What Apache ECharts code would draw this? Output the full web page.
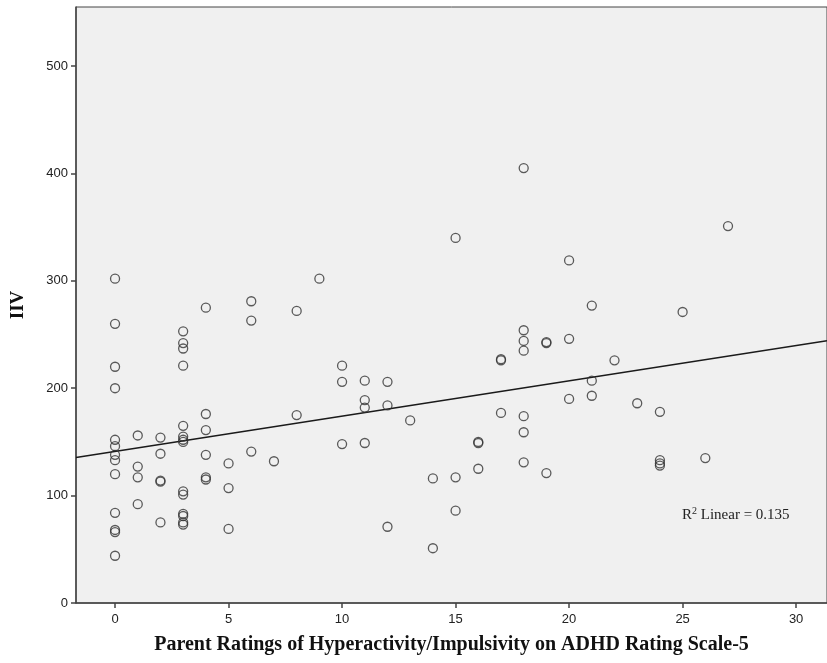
<!DOCTYPE html>
<html>
<head>
<meta charset="utf-8">
<script src="https://cdn.jsdelivr.net/npm/echarts@6/dist/echarts.min.js"></script>
<style>
  html, body { margin: 0; padding: 0; background: #fff; }
  #chart { width: 827px; height: 663px; }
</style>
</head>
<body>
<div id="chart"></div>
<script>
// parent rating (x) and IIV (y)
const ratingX = [
  0, 0, 0, 0, 0, 0, 0, 0, 0, 0, 0, 0, 0,
  1, 1, 1, 1,
  2, 2, 2, 2, 2,
  3, 3, 3, 3, 3, 3, 3, 3, 3, 3, 3, 3, 3, 3,
  4, 4, 4, 4, 4, 4,
  5, 5, 5,
  6, 6, 6,
  7,
  8, 8,
  9,
  10, 10, 10,
  11, 11, 11, 11,
  12, 12, 12,
  13,
  14, 14,
  15, 15, 15,
  16, 16, 16,
  17, 17, 17,
  18, 18, 18, 18, 18, 18, 18,
  19, 19, 19,
  20, 20, 20,
  21, 21, 21,
  22,
  23,
  24, 24, 24, 24,
  25,
  26,
  27
];
const iivY = [
  302, 260, 220, 200, 152, 146, 138, 133, 120, 84, 68, 66, 44,
  156, 127, 117, 92,
  154, 139, 114, 113, 75,
  253, 242, 237, 221, 165, 155, 152, 150, 104, 101, 83, 81, 75, 73,
  275, 176, 161, 138, 117, 115,
  130, 107, 69,
  281, 263, 141,
  132,
  272, 175,
  302,
  221, 206, 148,
  207, 189, 182, 149,
  206, 184, 71,
  170,
  116, 51,
  340, 117, 86,
  150, 149, 125,
  227, 226, 177,
  405, 254, 244, 235, 174, 159, 131,
  243, 242, 121,
  319, 246, 190,
  277, 207, 193,
  226,
  186,
  178, 133, 130, 128,
  271,
  135,
  351
];

// fit line ends at the plot edges
const fitX = [-1.72, 31.36];
const fitY = [135.4, 244.2];

const xTicks = [0, 5, 10, 15, 20, 25, 30];
const yTicks = [0, 100, 200, 300, 400, 500];

const r2Text = '0.135';

const chart = echarts.init(document.getElementById('chart'));

const points = ratingX.map((x, i) => [x, iivY[i]]);
const fitLine = fitX.map((x, i) => [x, fitY[i]]);

const tickFont = 'Liberation Sans, Arial, sans-serif';

const option = {
  animation: false,
  grid: {
    left: 76,
    top: 7,
    width: 752,
    height: 596,
    show: true,
    backgroundColor: '#f0f0f0',
    borderColor: '#444',
    borderWidth: 1
  },
  xAxis: {
    type: 'value',
    min: -1.72,
    max: 31.36,
    name: 'Parent Ratings of Hyperactivity/Impulsivity on ADHD Rating Scale-5',
    nameLocation: 'middle',
    nameGap: 32,
    nameTextStyle: {
      fontFamily: 'Liberation Serif',
      fontWeight: 'bold',
      fontSize: 20,
      color: '#111'
    },
    splitLine: { show: false },
    axisLine: { onZero: false, lineStyle: { color: '#444', width: 1.5 } },
    axisTick: { length: 5, customValues: xTicks, lineStyle: { color: '#444', width: 1.5 } },
    axisLabel: {
      customValues: xTicks,
      margin: 10,
      fontFamily: tickFont,
      fontSize: 13,
      color: '#222'
    }
  },
  yAxis: {
    type: 'value',
    min: 0,
    max: 555,
    name: 'IIV',
    nameLocation: 'middle',
    nameGap: 48,
    nameTextStyle: {
      fontFamily: 'Liberation Serif',
      fontWeight: 'bold',
      fontSize: 19,
      color: '#111'
    },
    splitLine: { show: false },
    axisLine: { onZero: false, lineStyle: { color: '#444', width: 1.5 } },
    axisTick: { length: 5, customValues: yTicks, lineStyle: { color: '#444', width: 1.5 } },
    axisLabel: {
      customValues: yTicks,
      margin: 8,
      fontFamily: tickFont,
      fontSize: 13,
      color: '#222'
    }
  },
  series: [
    {
      type: 'scatter',
      data: points,
      symbol: 'circle',
      symbolSize: 9,
      itemStyle: {
        color: 'rgba(0,0,0,0)',
        borderColor: '#333',
        borderWidth: 1.3
      },
      z: 3
    },
    {
      type: 'line',
      data: fitLine,
      showSymbol: false,
      lineStyle: { color: '#1a1a1a', width: 1.5 },
      z: 2
    }
  ],
  graphic: [
    {
      type: 'text',
      left: 682,
      top: 506,
      style: {
        text: '{r|R}{sup|2}{r| Linear = ' + r2Text + '}',
        rich: {
          r: { fontFamily: 'Liberation Serif', fontSize: 15, fill: '#222', verticalAlign: 'bottom' },
          sup: { fontFamily: 'Liberation Serif', fontSize: 10, fill: '#222', verticalAlign: 'top', padding: [0, 0, 7, 0] }
        }
      }
    }
  ]
};

chart.setOption(option);
</script>
</body>
</html>
